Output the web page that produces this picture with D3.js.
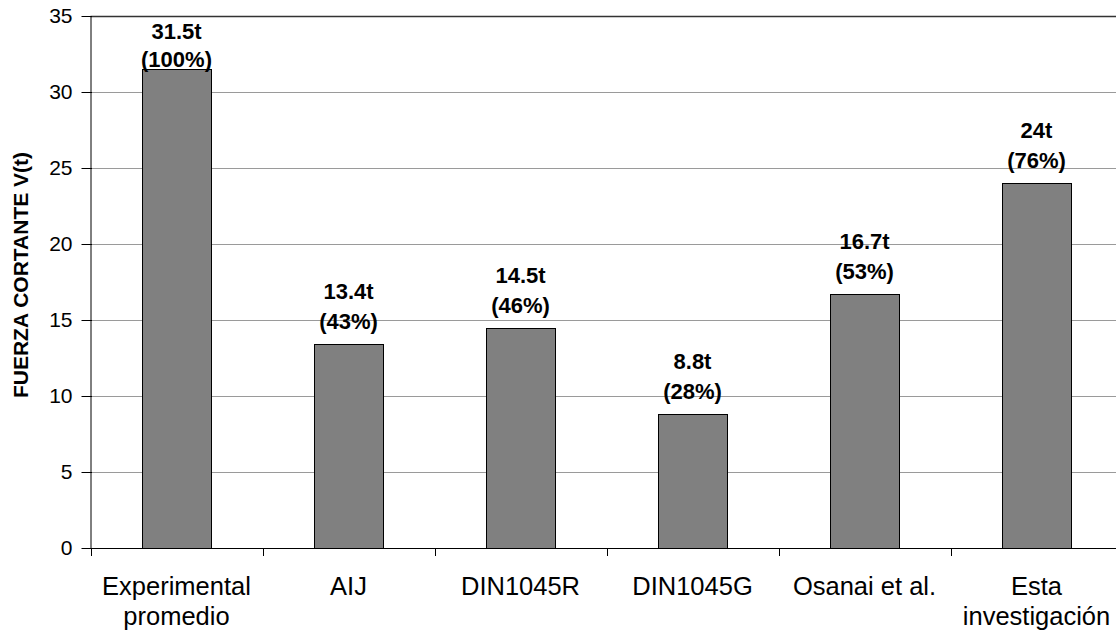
<!DOCTYPE html>
<html>
<head>
<meta charset="utf-8">
<script src="https://cdn.jsdelivr.net/npm/d3@7"></script>
<style>
  html, body { margin: 0; padding: 0; background: #fff; }
  svg { display: block; }
  text { font-family: "Liberation Sans", Arial, sans-serif; fill: #000; }
</style>
</head>
<body>
<svg id="chart" width="1116" height="633"></svg>
<script>
const categories = [
  ["Experimental", "promedio"],
  ["AIJ"],
  ["DIN1045R"],
  ["DIN1045G"],
  ["Osanai et al."],
  ["Esta", "investigación"]
];
const values = [31.5, 13.4, 14.5, 8.8, 16.7, 24];
const valueLabels = ["31.5t", "13.4t", "14.5t", "8.8t", "16.7t", "24t"];
const percentLabels = ["(100%)", "(43%)", "(46%)", "(28%)", "(53%)", "(76%)"];
const yTicks = [0, 5, 10, 15, 20, 25, 30, 35];
const yTitle = "FUERZA CORTANTE V(t)";

(function () {
const svg = d3.select("#chart");
const pLeft = 90.5, pRight = 1122.5, pTop = 16, pBottom = 548;
const keys = categories.map((c, i) => i);

const x = d3.scaleBand().domain(keys).range([pLeft, pRight]).paddingInner(0.6).paddingOuter(0.3);
const y = d3.scaleLinear().domain([0, 35]).range([pBottom, pTop]);
const step = x.step();

// gridlines
svg.append("g").selectAll("line").data(yTicks.filter(t => t > 0 && t < 35)).join("line")
  .attr("x1", pLeft).attr("x2", 1116)
  .attr("y1", d => Math.round(y(d)) + 0.5).attr("y2", d => Math.round(y(d)) + 0.5)
  .attr("stroke", "#9a9a9a").attr("stroke-width", 1);
// top border
svg.append("line").attr("x1", pLeft).attr("x2", 1116)
  .attr("y1", Math.round(y(35)) + 0.5).attr("y2", Math.round(y(35)) + 0.5)
  .attr("stroke", "#333").attr("stroke-width", 1.5);

// bars
svg.append("g").selectAll("rect").data(values).join("rect")
  .attr("x", (d, i) => Math.round(x(i)) + 0.5)
  .attr("y", d => Math.round(y(d)) + 0.5)
  .attr("width", Math.round(x.bandwidth()))
  .attr("height", d => Math.round(y(0)) - Math.round(y(d)))
  .attr("fill", "#808080").attr("stroke", "#000").attr("stroke-width", 1);

// y axis
const yAxis = d3.axisLeft(y).tickValues(yTicks).tickSize(9).tickPadding(9).tickFormat(d3.format("d"));
const gy = svg.append("g").attr("transform", `translate(${pLeft},0)`).call(yAxis);
gy.select(".domain").attr("stroke", "#000").attr("d", `M0.5,${pTop}V${pBottom}`);
gy.selectAll(".tick line").attr("stroke", "#000").attr("x2", 1.5).attr("x1", -9);
gy.selectAll(".tick text").attr("font-size", 21).attr("fill", "#000")
  .style("font-family", '"Liberation Sans", Arial, sans-serif');

// x axis line + ticks at band boundaries
svg.append("line").attr("x1", pLeft).attr("x2", 1116).attr("y1", pBottom + 0.5).attr("y2", pBottom + 0.5)
  .attr("stroke", "#000").attr("stroke-width", 1);
const boundaries = d3.range(categories.length + 1).map(i => pLeft + i * step);
svg.append("g").selectAll("line").data(boundaries).join("line")
  .attr("x1", d => Math.round(d) + 0.5).attr("x2", d => Math.round(d) + 0.5)
  .attr("y1", pBottom).attr("y2", pBottom + 8)
  .attr("stroke", "#000");

// x labels
const xl = svg.append("g").selectAll("text").data(categories).join("text")
  .attr("text-anchor", "middle")
  .attr("font-size", 25.5);
xl.each(function(d, i) {
  const t = d3.select(this);
  d.forEach((line, j) => {
    t.append("tspan").attr("x", x(i) + x.bandwidth() / 2).attr("y", pBottom + 47 + j * 30).text(line);
  });
});

// value labels
const lg = svg.append("g");
values.forEach((v, i) => {
  const cx = x(i) + x.bandwidth() / 2;
  const natural = y(v) - 15;
  const minB = y(35) + 51;
  const clamped = natural < minB;
  const b2 = clamped ? minB : natural;
  const b1 = b2 - (clamped ? 28 : 30);
  lg.append("text").attr("x", cx).attr("y", b1).attr("text-anchor", "middle")
    .attr("font-size", 22).attr("font-weight", "bold").text(valueLabels[i]);
  lg.append("text").attr("x", cx).attr("y", b2).attr("text-anchor", "middle")
    .attr("font-size", 22).attr("font-weight", "bold").text(percentLabels[i]);
});

// y title
svg.append("text")
  .attr("transform", `translate(28,${(pTop + pBottom) / 2 - 7}) rotate(-90)`)
  .attr("text-anchor", "middle")
  .attr("font-size", 21).attr("font-weight", "bold")
  .text(yTitle);
})();
</script>
</body>
</html>
